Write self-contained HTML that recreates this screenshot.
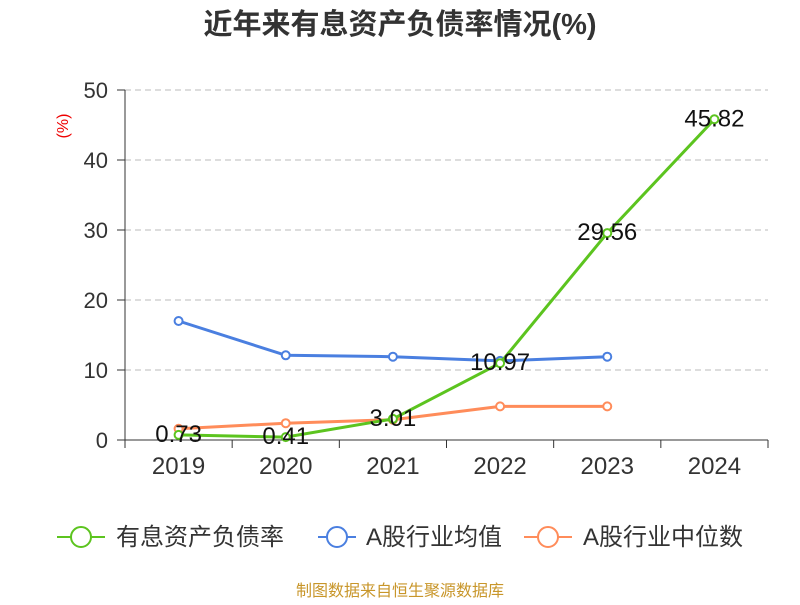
<!DOCTYPE html>
<html><head><meta charset="utf-8"><style>
body{margin:0;background:#fff;}
svg text{font-family:"Liberation Sans","Noto Sans CJK SC",sans-serif;}
</style></head><body>
<svg id="chart" width="800" height="600" xmlns="http://www.w3.org/2000/svg">
<text x="400" y="34" text-anchor="middle" font-size="29" font-weight="bold" fill="#333">近年来有息资产负债率情况(%)</text>
<text transform="translate(68,126) rotate(-90)" text-anchor="middle" font-size="16" fill="#e00">(%)</text>
<g id="grid"></g><g id="axes"></g><g id="series"></g>
<g>
<g><line x1="57" y1="537" x2="105" y2="537" stroke="#5cc41f" stroke-width="2"/><circle cx="81" cy="537" r="10" fill="#fff" stroke="#5cc41f" stroke-width="2"/><text x="116" y="545" font-size="24" fill="#333">有息资产负债率</text></g>
<g><line x1="318" y1="537" x2="356" y2="537" stroke="#4a7fe0" stroke-width="2"/><circle cx="337" cy="537" r="10" fill="#fff" stroke="#4a7fe0" stroke-width="2"/><text x="366" y="545" font-size="24" fill="#333">A股行业均值</text></g>
<g><line x1="524" y1="537" x2="572" y2="537" stroke="#ff8c5a" stroke-width="2"/><circle cx="548" cy="537" r="10" fill="#fff" stroke="#ff8c5a" stroke-width="2"/><text x="583" y="545" font-size="24" fill="#333">A股行业中位数</text></g>
</g>
<text x="400" y="596" text-anchor="middle" font-size="16" fill="#c8962a">制图数据来自恒生聚源数据库</text>
</svg>
<script>
const categories=["2019","2020","2021","2022","2023","2024"];
const debtRatio=[0.73,0.41,3.01,10.97,29.56,45.82];
const industryMean=[17.0,12.1,11.9,11.3,11.9];
const industryMedian=[1.6,2.4,2.9,4.8,4.8];
const yTicks=[0,10,20,30,40,50];
const NS="http://www.w3.org/2000/svg";
const x0=125,x1=768,yBase=440,yTop=90,yMax=50;
const bw=(x1-x0)/categories.length;
const X=i=>x0+bw*(i+0.5);
const Y=v=>yBase-(v/yMax)*(yBase-yTop);
function mk(tag,attrs,parent){const e=document.createElementNS(NS,tag);for(const k in attrs)e.setAttribute(k,attrs[k]);document.getElementById(parent).appendChild(e);return e;}
yTicks.forEach(t=>{
 if(t>0){const g=mk("line",{x1:x0,x2:x1,y1:Y(t),y2:Y(t),stroke:"#bbb","stroke-dasharray":"6,4"},"grid");
 
 }
 const tk=mk("line",{x1:x0-8,x2:x0,y1:Y(t),y2:Y(t),stroke:"#333"},"axes");
 
 
 const l=mk("text",{x:x0-17,y:Y(t)+8,"text-anchor":"end","font-size":"22",fill:"#333"},"axes");l.textContent=t;
 
 
});
const ya=mk("line",{x1:x0,x2:x0,y1:yTop,y2:yBase,stroke:"#333"},"axes");


const xa=mk("line",{x1:x0,x2:x1,y1:yBase,y2:yBase,stroke:"#333"},"axes");


for(let i=0;i<=categories.length;i++){const t=mk("line",{x1:x0+bw*i,x2:x0+bw*i,y1:yBase,y2:yBase+8,stroke:"#333"},"axes");
 
 }
categories.forEach((c,i)=>{const l=mk("text",{x:X(i),y:yBase+34,"text-anchor":"middle","font-size":"24",fill:"#333"},"axes");l.textContent=c;
 
 });
function series(vals,color,name,labels){
 const p=mk("polyline",{points:vals.map((v,i)=>X(i)+","+Y(v)).join(" "),fill:"none",stroke:color,"stroke-width":"3"},"series");
 
 
 vals.forEach((v,i)=>{const c=mk("circle",{cx:X(i),cy:Y(v),r:4,fill:"#fff",stroke:color,"stroke-width":"2"},"series");
  
  });
 if(labels)vals.forEach((v,i)=>{const t=mk("text",{x:X(i),y:Y(v)+7,"text-anchor":"middle","font-size":"24",fill:"#111"},"series");t.textContent=v.toFixed(2);
  
  });
}
series(industryMean,"#4a7fe0","industry-mean",false);
series(industryMedian,"#ff8c5a","industry-median",false);
series(debtRatio,"#5cc41f","debt-ratio",true);
</script>
</body></html>
